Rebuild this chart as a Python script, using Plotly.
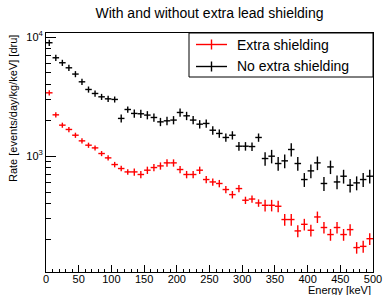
import plotly.graph_objects as go

# ---- data ----
energy_keV = [5 + 10 * i for i in range(50)]   # bin centres (10 keV bins)
bin_half_width = 5

rate_extra = [3404, 2224, 1822, 1676, 1500, 1345, 1237, 1174, 1053, 968,
              851, 788, 738, 738, 702, 763, 803, 829, 879, 879,
              773, 702, 702, 763, 637, 608, 590, 525, 476, 535,
              427, 437, 405, 387, 387, 380, 294, 294, 236, 268,
              239, 309, 252, 220, 252, 220, 242, 171, 175, 203]
err_extra = [170, 110, 90, 85, 75, 68, 62, 58, 52, 48,
             45, 42, 40, 52, 50, 54, 56, 58, 62, 62,
             54, 50, 50, 54, 45, 43, 42, 37, 34, 38,
             30, 31, 29, 43, 43, 42, 33, 33, 27, 30,
             27, 34, 28, 25, 28, 25, 27, 19, 20, 23]

rate_noextra = [8960, 6700, 6085, 5520, 4890, 4210, 3630, 3360, 3150, 3030,
                2995, 2075, 2466, 2285, 2270, 2213, 2113, 1942, 1981, 2010,
                2328, 2182, 2010, 1857, 1883, 1652, 1552, 1436, 1500, 1213,
                1213, 1205, 1436, 956, 1000, 868, 914, 1138, 868, 637,
                753, 879, 590, 813, 608, 679, 570, 597, 637, 679]
err_noextra = [530, 400, 360, 330, 290, 250, 215, 200, 185, 180,
               175, 160, 145, 180, 180, 175, 170, 155, 160, 160,
               185, 175, 160, 150, 150, 135, 125, 115, 120, 100,
               100, 100, 115, 125, 130, 115, 120, 145, 115, 85,
               100, 115, 80, 105, 80, 90, 75, 80, 85, 90]

series_names = ["Extra shielding", "No extra shielding"]
series_colors = ["#ff0000", "#000000"]

y_major = [1000, 10000]
y_major_text = ["10<sup>3</sup>", "10<sup>4</sup>"]
y_minor = [200, 300, 400, 500, 600, 700, 800, 900,
           2000, 3000, 4000, 5000, 6000, 7000, 8000, 9000]

FONT = "Liberation Sans, Arial, sans-serif"

fig = go.Figure()
for yv, ev, name, col in [(rate_extra, err_extra, series_names[0], series_colors[0]),
                          (rate_noextra, err_noextra, series_names[1], series_colors[1])]:
    fig.add_trace(go.Scatter(
        x=energy_keV, y=yv, mode="markers", name=name,
        marker=dict(size=1, color=col),
        error_y=dict(type="data", array=ev, visible=True, color=col, thickness=1.4, width=0),
        error_x=dict(type="constant", value=bin_half_width, visible=True, color=col,
                     thickness=1.4, width=0),
        showlegend=False,
    ))

fig.update_layout(
    width=383, height=295,
    margin=dict(l=46, r=10, t=33, b=23, autoexpand=False),
    paper_bgcolor="white", plot_bgcolor="white",
    font=dict(family=FONT, size=11, color="black"),
    title=dict(text="With and without extra lead shielding", x=209.5 / 383, xanchor="center",
               y=1 - 12.7 / 295, yanchor="middle", font=dict(size=14, family=FONT)),
    showlegend=False,
)
fig.update_xaxes(
    range=[0, 500], showgrid=False, zeroline=False, automargin=False,
    showline=True, linecolor="black", linewidth=1, mirror=True,
    ticks="inside", tickmode="array", tickvals=list(range(0, 501, 50)),
    ticklen=7, tickcolor="black", tickfont=dict(size=11), ticklabelstandoff=-3,
    minor=dict(ticks="inside", tickmode="array", tickvals=list(range(0, 501, 10)),
               ticklen=3.5, tickcolor="black", showgrid=False),
)
fig.update_yaxes(
    type="log", range=[2.028, 4.034], showgrid=False, zeroline=False, automargin=False,
    showline=True, linecolor="black", linewidth=1, mirror=True,
    ticks="inside", tickmode="array", tickvals=y_major, ticktext=y_major_text,
    ticklen=10, tickcolor="black", tickfont=dict(size=11),
    minor=dict(ticks="inside", tickmode="array", tickvals=y_minor,
               ticklen=5, tickcolor="black", showgrid=False),
)

# axis titles (ROOT style: right aligned)
fig.add_annotation(text="Rate [events/day/kg/keV] [dru]", xref="paper", yref="paper",
                   x=(12.5 - 46) / 327, y=1.0, xanchor="center", yanchor="top",
                   textangle=-90, showarrow=False, font=dict(size=11, family=FONT))
fig.add_annotation(text="Energy [keV]", xref="paper", yref="paper",
                   x=1.0, y=(272 - 289.5) / 239, xanchor="right", yanchor="middle",
                   showarrow=False, font=dict(size=11, family=FONT))

# legend box (drawn by hand, ROOT TLegend style)
def px_x(p):
    return (p - 46) / 327

def px_y(p):
    return (272 - p) / 239

fig.add_shape(type="rect", xref="paper", yref="paper",
              x0=px_x(189), x1=1.0, y0=px_y(77), y1=1.0,
              line=dict(color="black", width=1), fillcolor="white", layer="above")
for i, (name, col) in enumerate(zip(series_names, series_colors)):
    yc = [44.5, 66.5][i]
    fig.add_shape(type="line", xref="paper", yref="paper",
                  x0=px_x(196), x1=px_x(227), y0=px_y(yc), y1=px_y(yc),
                  line=dict(color=col, width=1.4), layer="above")
    fig.add_shape(type="line", xref="paper", yref="paper",
                  x0=px_x(211.5), x1=px_x(211.5), y0=px_y(yc - 5), y1=px_y(yc + 5),
                  line=dict(color=col, width=1.4), layer="above")
    fig.add_annotation(text=name, xref="paper", yref="paper",
                       x=px_x(235), y=px_y(yc), xanchor="left", yanchor="middle",
                       showarrow=False, font=dict(size=14, family=FONT))

fig.write_html("out.html", config={"displayModeBar": False},
               post_script="document.body.style.margin='0';")
